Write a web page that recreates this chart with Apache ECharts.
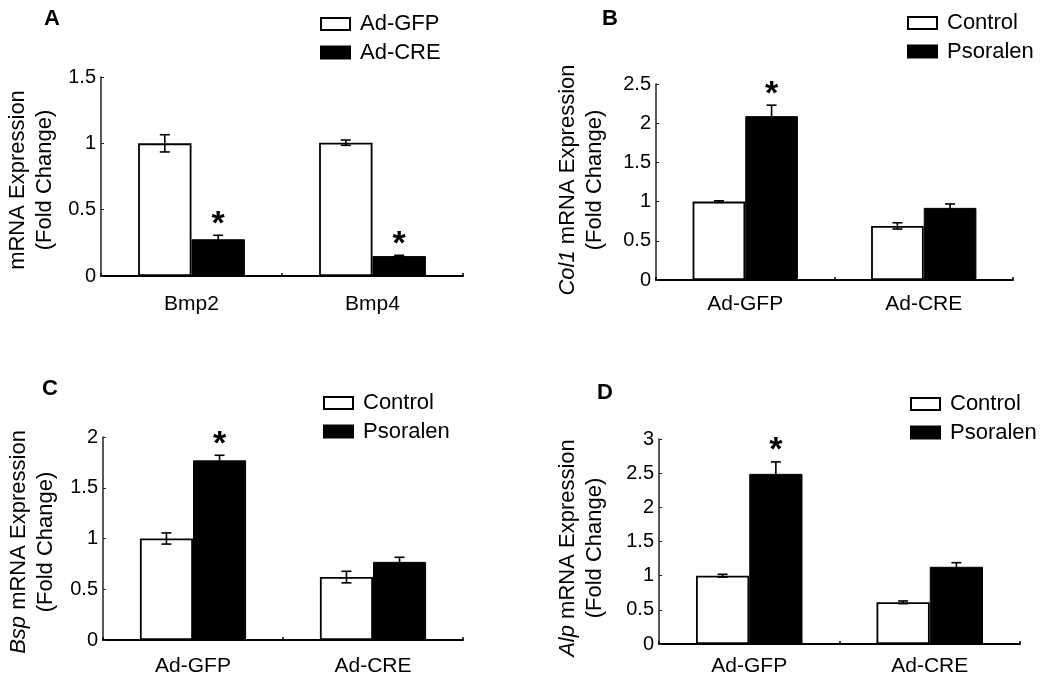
<!DOCTYPE html>
<html>
<head>
<meta charset="utf-8">
<script src="https://cdn.jsdelivr.net/npm/echarts@6/dist/echarts.min.js"></script>
<style>html,body{margin:0;padding:0;background:#fff}#c{width:1050px;height:683px}</style>
</head>
<body>
<div id="c"></div>
<script>
// ---- data ----
const catsA = ['Bmp2', 'Bmp4'];
const aGfp = [1.0, 1.005];
const aGfpErr = [0.065, 0.02];
const aCre = [0.277, 0.15];
const aCreErr = [0.03, 0.006];
const aCreSig = [1, 1];

const catsBCD = ['Ad-GFP', 'Ad-CRE'];
const bCtrl = [1.0, 0.69];
const bCtrlErr = [0.01, 0.04];
const bPso = [2.09, 0.92];
const bPsoErr = [0.14, 0.05];
const bPsoSig = [1, 0];

const cCtrl = [1.0, 0.62];
const cCtrlErr = [0.055, 0.057];
const cPso = [1.77, 0.77];
const cPsoErr = [0.05, 0.045];
const cPsoSig = [1, 0];

const dCtrl = [1.0, 0.61];
const dCtrlErr = [0.02, 0.02];
const dPso = [2.49, 1.13];
const dPsoErr = [0.175, 0.06];
const dPsoSig = [1, 0];

const yMax = [1.5, 2.5, 2, 3];
const yStep = 0.5;

// ---- build ----
const FONT = "'Liberation Sans', Arial, sans-serif";
const BAR_FRAC = 0.295;

const grids = [
  {left: 101, top: 77, width: 362, height: 199},
  {left: 656, top: 84, width: 357, height: 196},
  {left: 103, top: 437, width: 360, height: 203},
  {left: 659, top: 439, width: 361, height: 205}
];
const xMargins = [18, 14, 16, 12];

const xAxes = [], yAxes = [], series = [];
const panels = [
  {cats: catsA, names: ['Ad-GFP', 'Ad-CRE'], v0: aGfp, e0: aGfpErr, v1: aCre, e1: aCreErr, sig: aCreSig},
  {cats: catsBCD, names: ['Control', 'Psoralen'], v0: bCtrl, e0: bCtrlErr, v1: bPso, e1: bPsoErr, sig: bPsoSig},
  {cats: catsBCD, names: ['Control', 'Psoralen'], v0: cCtrl, e0: cCtrlErr, v1: cPso, e1: cPsoErr, sig: cPsoSig},
  {cats: catsBCD, names: ['Control', 'Psoralen'], v0: dCtrl, e0: dCtrlErr, v1: dPso, e1: dPsoErr, sig: dPsoSig}
];

function errSeries(gi, side, vals, errs, sig) {
  return {
    type: 'custom', xAxisIndex: gi, yAxisIndex: gi, z: 5, silent: true,
    data: vals.map((v, i) => [i, v, errs[i], sig ? sig[i] : 0]),
    renderItem: function (params, api) {
      const cat = api.value(0), v = api.value(1), e = api.value(2), s = api.value(3);
      const band = api.size([1, 0])[0];
      const off = side * band * BAR_FRAC / 2;
      const t = api.coord([cat, v + e]);
      const b = api.coord([cat, v - e]);
      const x = t[0] + off;
      const st = {stroke: '#000', lineWidth: 1.6};
      const ch = [
        {type: 'line', shape: {x1: x, y1: t[1], x2: x, y2: b[1]}, style: st},
        {type: 'line', shape: {x1: x - 5, y1: t[1], x2: x + 5, y2: t[1]}, style: st},
        {type: 'line', shape: {x1: x - 5, y1: b[1], x2: x + 5, y2: b[1]}, style: st}
      ];
      if (s) {
        ch.push({type: 'text', x: x, y: t[1] - 11, style: {text: '*', fontSize: 34, fontWeight: 'bold', fontFamily: FONT, fill: '#000', textAlign: 'center', textVerticalAlign: 'middle'}});
      }
      return {type: 'group', children: ch};
    }
  };
}

panels.forEach((p, gi) => {
  xAxes.push({
    type: 'category', gridIndex: gi, data: p.cats,
    axisLine: {lineStyle: {color: '#000', width: 2}},
    axisTick: {show: true, inside: true, length: 3, lineStyle: {color: '#000', width: 1.5}},
    axisLabel: {color: '#000', fontSize: 21, fontFamily: FONT, margin: xMargins[gi]}
  });
  yAxes.push({
    type: 'value', gridIndex: gi, min: 0, max: yMax[gi], interval: yStep,
    splitLine: {show: false},
    axisLine: {show: true, lineStyle: {color: '#222', width: 1.5}},
    axisTick: {show: true, inside: true, length: 3, lineStyle: {color: '#222'}},
    axisLabel: {color: '#000', fontSize: 20, fontFamily: FONT, margin: 5}
  });
  series.push({
    type: 'bar', name: p.names[0], xAxisIndex: gi, yAxisIndex: gi, data: p.v0,
    barGap: '0%', barCategoryGap: '41%',
    itemStyle: {color: '#fff', borderColor: '#000', borderWidth: 1.8}
  });
  series.push({
    type: 'bar', name: p.names[1], xAxisIndex: gi, yAxisIndex: gi, data: p.v1,
    barGap: '0%', barCategoryGap: '41%',
    itemStyle: {color: '#000', borderColor: '#000', borderWidth: 1}
  });
  series.push(errSeries(gi, -1, p.v0, p.e0, null));
  series.push(errSeries(gi, 1, p.v1, p.e1, p.sig));
});

const legendPos = [[320, 13], [907, 12], [323, 392], [910, 393]];
const legends = panels.map((p, gi) => ({
  orient: 'vertical', left: legendPos[gi][0], top: legendPos[gi][1],
  data: p.names, itemWidth: 29, itemHeight: 12, itemGap: 6.5,
  selectedMode: false, icon: 'rect', padding: 0,
  textStyle: {color: '#000', fontSize: 22, fontFamily: FONT, lineHeight: 22, padding: [0, 0, 0, 5]}
}));

function yName(x, y, lead) {
  return {
    type: 'text', x: x, y: y, rotation: Math.PI / 2, silent: true,
    style: {
      text: (lead ? '{i|' + lead + '}{n| mRNA Expression}' : '{n|mRNA Expression}') + '\n{n|(Fold Change)}',
      textAlign: 'center', textVerticalAlign: 'middle', fill: '#000',
      rich: {
        i: {fontSize: 22, fontStyle: 'italic', fontFamily: FONT, lineHeight: 27, fill: '#000'},
        n: {fontSize: 22, fontFamily: FONT, lineHeight: 27, fill: '#000'}
      }
    }
  };
}
function letter(t, x, y) {
  return {type: 'text', x: x, y: y, silent: true,
    style: {text: t, fontSize: 22, fontWeight: 'bold', fontFamily: FONT, fill: '#000', textAlign: 'center', textVerticalAlign: 'middle'}};
}

const chart = echarts.init(document.getElementById('c'), null, {renderer: 'canvas'});
chart.setOption({
  animation: false,
  backgroundColor: '#fff',
  grid: grids,
  xAxis: xAxes,
  yAxis: yAxes,
  legend: legends,
  series: series,
  graphic: [
    yName(31.5, 180, null),
    yName(581.5, 180, 'Col1'),
    yName(32, 542, 'Bsp'),
    yName(581.5, 548, 'Alp'),
    letter('A', 52, 19),
    letter('B', 610, 19),
    letter('C', 50, 389),
    letter('D', 605, 393)
  ]
});
</script>
</body>
</html>
